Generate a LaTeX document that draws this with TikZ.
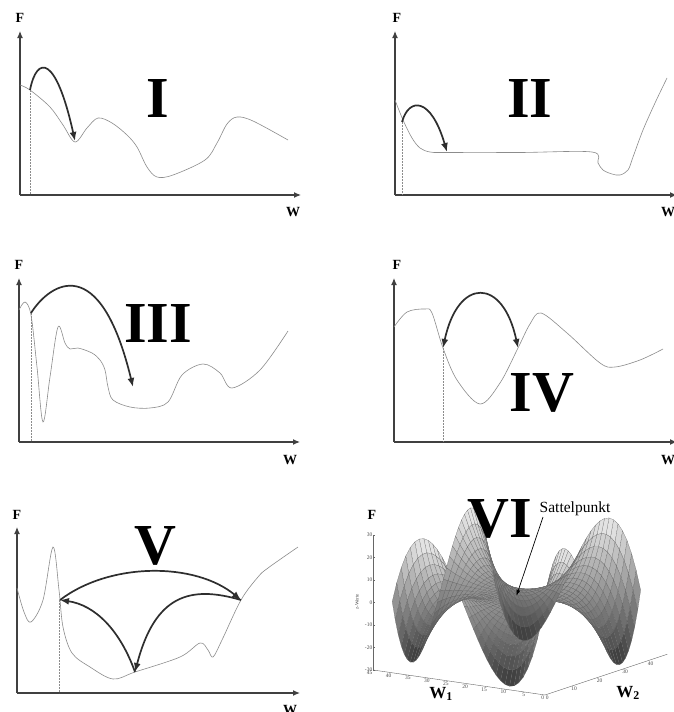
\documentclass[tikz,border=0pt]{standalone}
\usepackage{fontspec}
\setmainfont{Liberation Serif}
\usepackage{pgfplots}
\pgfplotsset{compat=1.18}
\usetikzlibrary{arrows.meta}
\tikzset{
  axisarrow/.style={draw=black!75, line width=1.2pt, -{Latex[length=7pt,width=6pt]}},
  fcurve/.style={draw=black!45, line width=0.6pt, smooth, tension=0.55},
  guideline/.style={draw=black!45, line width=0.4pt, dash pattern=on 1.6pt off 1.4pt},
  jumparrow/.style={draw=black!82, line width=1.7pt, -{Latex[length=9pt,width=7pt]}},
  jumpboth/.style={draw=black!82, line width=1.7pt, {Latex[length=9pt,width=7pt]}-{Latex[length=9pt,width=7pt]}},
  axlab/.style={font=\fontsize{14}{14}\selectfont\bfseries, inner sep=0pt},
  numeral/.style={font=\fontsize{58}{58}\selectfont\bfseries, inner sep=0pt},
  ticklab/.style={font=\fontsize{5.5}{5.5}\selectfont, inner sep=0.6pt, text=black!70},
  wlab/.style={font=\fontsize{17}{17}\selectfont\bfseries, inner sep=0pt},
}
\begin{document}
\begin{tikzpicture}
\useasboundingbox (0pt,0pt) rectangle (673pt,-712pt);
\fill[white] (0pt,0pt) rectangle (673pt,-712pt);

%% ---------- Panel VI surface ----------
\begin{axis}[
  at={(545pt,-627.5pt)}, anchor=origin,
  x={(-3.82pt,0.556pt)}, y={(2.55pt,0.85pt)}, z={(0pt,2.25pt)},
  disabledatascaling,
  xmin=0, xmax=45, ymin=0, ymax=45, zmin=-30, zmax=30,
  hide axis, clip=false,
  colormap={sgray}{gray(0cm)=(0.2); gray(1cm)=(0.94)},
  point meta min=-31, point meta max=31,
]
  \draw[black!60, line width=0.4pt] (axis cs:45,0,-30) -- (axis cs:45,0,30);
  \draw[black!60, line width=0.4pt] (axis cs:45,0,-30) -- (axis cs:0,0,-30) -- (axis cs:0,48,-30);
  \pgfplotsinvokeforeach{-30,-20,-10,0,10,20,30}{
    \draw[black!60, line width=0.3pt] (axis cs:45,0,#1) -- ++(2pt,0pt);
    \node[ticklab, anchor=east] at (axis cs:45,0,#1) {#1};
  }
  \pgfplotsinvokeforeach{0,5,10,15,20,25,30,35,40,45}{
    \node[ticklab, anchor=north east] at (axis cs:#1,0,-30) {#1};
  }
  \pgfplotsinvokeforeach{0,10,20,30,40}{
    \node[ticklab, anchor=north west] at (axis cs:0,#1,-30) {#1};
  }
  \addplot3[surf, shader=faceted, faceted color=black!62, line width=0.14pt,
    samples=34, domain=3:42, y domain=3:42, z buffer=sort]
    {30/55600*(x-22.5)*(y-22.5)*((x-22.5)^2-(y-22.5)^2)};
  \coordinate (saddle) at (axis cs:22.5,22.5,0);
\end{axis}

\begin{scope}[x=1pt, y=-1pt]
%% ---------- Panel I ----------
\coordinate (o1) at (20,195); \coordinate (yt1) at (20,31); \coordinate (xt1) at (301,195);
\draw[axisarrow] (o1) -- (yt1);
\draw[axisarrow] (o1) -- (xt1);
\node[axlab] (F1) at (20,18) {F};
\node[axlab] (W1) at (293,212) {W};
\draw[fcurve] plot coordinates {(20,85) (30,90) (50,107) (63,125) (75,142) (87,128) (98,118) (112,123) (127,135) (137,147) (147,167) (157,177) (173,175) (205,160) (217,143) (227,124) (237,117) (253,121) (288,140)};
\coordinate (s1) at (30,90); \coordinate (e1) at (75,141); \coordinate (b1) at (30,195);
\draw[guideline] (s1) -- (b1);
\draw[jumparrow] (s1) .. controls (37,55) and (56,55) .. (e1);
\node[numeral] (N1) at (158,99) {I};

%% ---------- Panel II ----------
\coordinate (o2) at (395,195); \coordinate (yt2) at (395,31); \coordinate (xt2) at (677,195);
\draw[axisarrow] (o2) -- (yt2);
\draw[axisarrow] (o2) -- (xt2);
\node[axlab] (F2) at (397,18) {F};
\node[axlab] (W2) at (668,212) {W};
\draw[fcurve] plot coordinates {(395,100) (403,120) (412,138) (420,148) (430,152) (445,152.5) (520,152.5) (592,152) (598,163) (603,170) (612,174) (620,175) (628,170) (633,157) (643,130) (655,103) (667,78)};
\coordinate (s2) at (402,122); \coordinate (e2) at (447,152); \coordinate (b2) at (402,195);
\draw[guideline] (s2) -- (b2);
\draw[jumparrow] (s2) .. controls (409,97) and (431,97) .. (e2);
\node[numeral] (N2) at (530,99) {II};

%% ---------- Panel III ----------
\coordinate (o3) at (19,442); \coordinate (yt3) at (19,278); \coordinate (xt3) at (300,442);
\draw[axisarrow] (o3) -- (yt3);
\draw[axisarrow] (o3) -- (xt3);
\node[axlab] (F3) at (19,265) {F};
\node[axlab] (W3) at (290,460) {W};
\draw[fcurve] plot coordinates {(19,310) (25,302) (31,315) (37,367) (43,422) (50,377) (58,327) (65,343) (70,349) (78,348) (92,353) (100,360) (105,370) (108,387) (113,400) (130,407) (150,408) (168,402) (182,375) (203,364) (220,373) (232,388) (260,370) (288,331)};
\coordinate (s3) at (31,313); \coordinate (e3) at (133,387); \coordinate (b3) at (31,442);
\draw[guideline] (s3) -- (b3);
\draw[jumparrow] (s3) .. controls (50,283) and (100,250) .. (e3);
\node[numeral] (N3) at (158,324) {III};

%% ---------- Panel IV ----------
\coordinate (o4) at (394,442); \coordinate (yt4) at (394,278); \coordinate (xt4) at (677,442);
\draw[axisarrow] (o4) -- (yt4);
\draw[axisarrow] (o4) -- (xt4);
\node[axlab] (F4) at (397,265) {F};
\node[axlab] (W4) at (668,460) {W};
\draw[fcurve] plot coordinates {(394,327) (407,312) (425,309) (432,313) (443,348) (457,380) (480,404) (500,383) (518,348) (530,324) (541,313) (567,333) (600,363) (615,367) (640,360) (663,349)};
\coordinate (s4) at (443,348); \coordinate (e4) at (518,348); \coordinate (b4) at (443,442);
\draw[guideline] (s4) -- (b4);
\draw[jumpboth] (s4) .. controls (458,277) and (503,277) .. (e4);
\node[numeral] (N4) at (542,393) {IV};

%% ---------- Panel V ----------
\coordinate (o5) at (17,693); \coordinate (yt5) at (17,527); \coordinate (xt5) at (300,693);
\draw[axisarrow] (o5) -- (yt5);
\draw[axisarrow] (o5) -- (xt5);
\node[axlab] (F5) at (17,515) {F};
\node[axlab] (W5) at (290,710) {W};
\draw[fcurve] plot coordinates {(17,588) (24,612) (31,622) (43,600) (53,547) (59,590) (63,627) (72,653) (90,667) (113,679) (135,672) (180,657) (200,643) (208,650) (213,657) (222,640) (241,600) (258,577) (268,568) (298,547)};
\coordinate (L5) at (60,600); \coordinate (R5) at (241,600); \coordinate (B5) at (135,672); \coordinate (b5) at (59,693);
\draw[guideline] (59,600) -- (b5);
\draw[jumparrow] (L5) .. controls (110,562) and (195,562) .. (R5);
\draw[jumparrow] (R5) .. controls (190,585) and (155,595) .. (B5);
\draw[jumparrow] (B5) .. controls (120,630) and (95,605) .. (L5);
\node[numeral] (N5) at (155,546) {V};

%% ---------- Panel VI labels ----------
\node[axlab] (F6) at (372,515) {F};
\node[font=\fontsize{5}{5}\selectfont, text=black!70, rotate=90] (zw) at (357,602) {z-Werte};
\node[wlab] (W61) at (441,694) {W\textsubscript{1}};
\node[wlab] (W62) at (628,693) {W\textsubscript{2}};
\node[numeral] (N6) at (500,519) {VI};
\node[font=\fontsize{15.5}{15.5}\selectfont, inner sep=1pt] (sp) at (575,509) {Sattelpunkt};
\coordinate (spstart) at (543,517);
\draw[black, line width=0.7pt, -{Latex[length=6pt,width=4pt]}] (spstart) -- (saddle);
\end{scope}
\end{tikzpicture}
\end{document}
